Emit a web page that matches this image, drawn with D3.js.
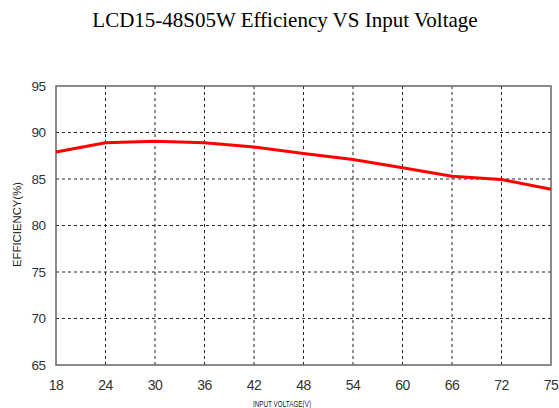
<!DOCTYPE html>
<html>
<head>
<meta charset="utf-8">
<script src="https://cdn.jsdelivr.net/npm/d3@7"></script>
<style>
  body { margin: 0; background: #fff; }
  svg { display: block; }
</style>
</head>
<body>
<svg width="559" height="408"></svg>
<script>
"use strict";

// chart data
const voltageTicks = ["18", "24", "30", "36", "42", "48", "54", "60", "66", "72", "75"];
const efficiency = [87.9, 88.9, 89.05, 88.9, 88.45, 87.75, 87.1, 86.2, 85.3, 84.95, 83.9];
const yTicks = [65, 70, 75, 80, 85, 90, 95];

const svg = d3.select("svg");
const margin = { left: 56, right: 8, top: 86, bottom: 43 };
const width = 559;
const height = 408;

// the x axis is spaced evenly per tick, 72 -> 75 takes the same room as the others
const x = d3
  .scalePoint()
  .domain(voltageTicks)
  .range([margin.left, width - margin.right]);

const y = d3
  .scaleLinear()
  .domain([65, 95])
  .range([height - margin.bottom, margin.top]);

/////////////////////////////////////
// title
/////////////////////////////////////
svg
  .append("text")
  .attr("x", 285)
  .attr("y", 27)
  .attr("text-anchor", "middle")
  .style("font-family", "Liberation Serif, Times New Roman, serif")
  .style("font-size", "21px")
  .text("LCD15-48S05W Efficiency VS Input Voltage");

/////////////////////////////////////
// grid
/////////////////////////////////////
const grid = svg.append("g").attr("stroke", "#222").attr("stroke-dasharray", "3,3");

grid
  .selectAll(".vgrid")
  .data(voltageTicks.slice(1, -1))
  .enter()
  .append("line")
  .attr("x1", (d) => x(d))
  .attr("x2", (d) => x(d))
  .attr("y1", y(95))
  .attr("y2", y(65));

grid
  .selectAll(".hgrid")
  .data(yTicks.slice(1, -1))
  .enter()
  .append("line")
  .attr("x1", x("18"))
  .attr("x2", x("75"))
  .attr("y1", (d) => y(d))
  .attr("y2", (d) => y(d));

/////////////////////////////////////
// frame + tick labels
/////////////////////////////////////
svg
  .append("rect")
  .attr("x", x("18"))
  .attr("y", y(95))
  .attr("width", x("75") - x("18"))
  .attr("height", y(65) - y(95))
  .attr("fill", "none")
  .attr("stroke", "#666")
  .attr("stroke-width", 1.5);

const tickFont = "Liberation Sans, Arial, sans-serif";

svg
  .append("g")
  .selectAll("text")
  .data(yTicks)
  .enter()
  .append("text")
  .attr("x", margin.left - 10.5)
  .attr("y", (d) => y(d))
  .attr("dy", "0.35em")
  .attr("text-anchor", "end")
  .style("font-family", tickFont)
  .style("font-size", "13.5px")
  .style("letter-spacing", "-0.5px")
  .attr("fill", "#333")
  .text((d) => d);

svg
  .append("g")
  .selectAll("text")
  .data(voltageTicks)
  .enter()
  .append("text")
  .attr("x", (d) => x(d))
  .attr("y", y(65) + 25)
  .attr("text-anchor", "middle")
  .style("font-family", tickFont)
  .style("font-size", "14px")
  .style("letter-spacing", "-0.5px")
  .attr("fill", "#333")
  .text((d) => d);

// axis titles
svg
  .append("text")
  .attr("x", 282)
  .attr("y", 407)
  .attr("text-anchor", "middle")
  .attr("textLength", 58)
  .attr("lengthAdjust", "spacingAndGlyphs")
  .style("font-family", tickFont)
  .style("font-size", "9.5px")
  .attr("fill", "#222")
  .text("INPUT VOLTAGE(V)");

svg
  .append("text")
  .attr("transform", "translate(20.5,224.5) rotate(-90)")
  .attr("text-anchor", "middle")
  .attr("textLength", 85)
  .attr("lengthAdjust", "spacingAndGlyphs")
  .style("font-family", tickFont)
  .style("font-size", "10.5px")
  .attr("fill", "#222")
  .text("EFFICIENCY(%)");

/////////////////////////////////////
// efficiency curve
/////////////////////////////////////
const line = d3
  .line()
  .x((d, i) => x(voltageTicks[i]))
  .y((d) => y(d));

svg
  .append("path")
  .datum(efficiency)
  .attr("d", line)
  .attr("fill", "none")
  .attr("stroke", "#ff0000")
  .attr("stroke-width", 3)
  .attr("stroke-linejoin", "round");
</script>
</body>
</html>
